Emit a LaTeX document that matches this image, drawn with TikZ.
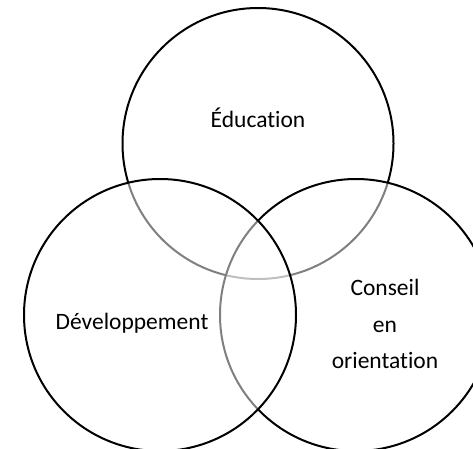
\documentclass[tikz,border=0pt]{standalone}
\usepackage{fontspec}
\setmainfont{Carlito}[Ligatures=NoCommon]
\begin{document}
\begin{tikzpicture}[x=1pt,y=-1pt,
  venn/.style={draw=black,line width=2pt,fill=white,fill opacity=0.5,draw opacity=1},
  lbl/.style={font=\fontsize{23.5}{36.5}\selectfont,align=center,text opacity=1}]
\useasboundingbox (0,0) rectangle (473,448);
\clip (0,0) rectangle (473,448);
\fill[white] (0,0) rectangle (473,448);
\draw[venn] (258,143.5) circle[radius=135.5];
\draw[venn] (356,315) circle[radius=136];
\draw[venn] (160,315) circle[radius=136];
\node[lbl] (edu) at (258,118) {Éducation};
\node[lbl] (dev) at (132,323) {Développement};
\node[lbl] (con) at (385,324) {Conseil\\en\\orientation};
\end{tikzpicture}
\end{document}
